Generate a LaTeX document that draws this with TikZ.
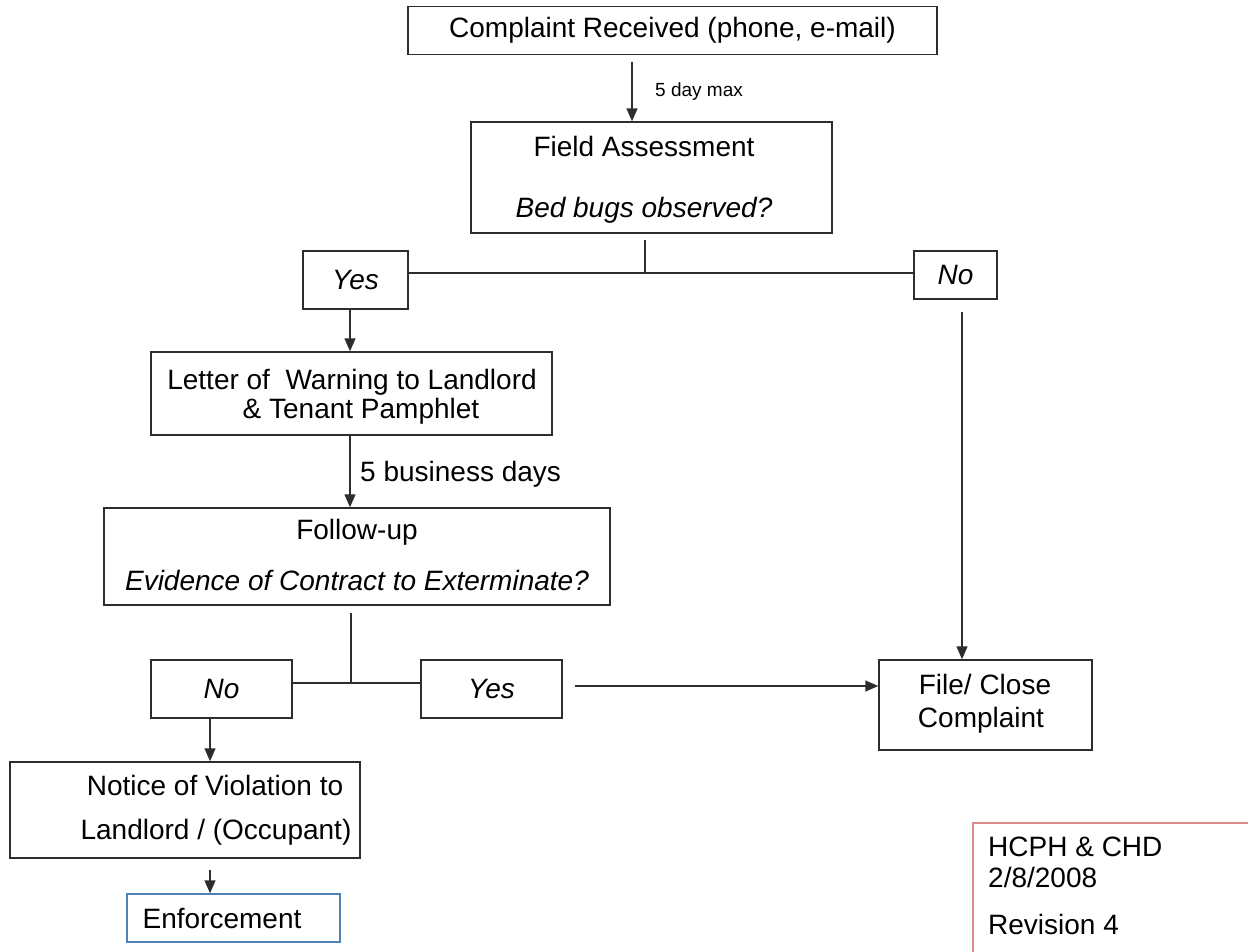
\documentclass[tikz,border=0pt]{standalone}
\usepackage{fontspec}
\setmainfont{Liberation Sans}
\usetikzlibrary{arrows.meta,calc}
\definecolor{lncol}{RGB}{45,45,45}
\definecolor{bluebox}{RGB}{79,129,189}
\definecolor{redbox}{RGB}{217,140,140}
\begin{document}
\begin{tikzpicture}[x=1pt,y=-1pt,
 box/.style={draw=lncol, line width=1.5pt, rectangle, inner sep=0pt, font=\fontsize{28}{32}\selectfont, align=center},
 txt/.style={inner sep=0pt, font=\fontsize{28}{32}\selectfont},
 itxt/.style={inner sep=0pt, font=\fontsize{28}{32}\selectfont\itshape},
 ibox/.style={box, font=\fontsize{28}{32}\selectfont\itshape},
 arr/.style={line width=1.5pt, draw=lncol, -{Triangle[length=13pt,width=11pt]}},
 ln/.style={line width=1.5pt, draw=lncol}]
\useasboundingbox (0,0) rectangle (1248,951);
\fill[white] (0,0) rectangle (1248,951);

% boxes
\node[box, minimum width=529, minimum height=48] (top) at (672.5,30.5) {Complaint Received (phone, e-mail)};
\node[box, minimum width=361, minimum height=111] (field) at (651.5,177.5) {};
\node[txt] (fieldt1) at (644,146) {Field Assessment};
\node[itxt] (fieldt2) at (644,210) {Bed bugs observed?};

\node[ibox, minimum width=105, minimum height=58] (yes1) at (355.5,280) {Yes};
\node[ibox, minimum width=83, minimum height=48] (no1) at (955.5,275) {No};

\node[box, minimum width=401, minimum height=83] (letter) at (351.5,393.5) {};
\node[txt] (lettert1) at (352,382) {Letter of\ \ Warning to Landlord};
\node[txt] (lettert2) at (361,411) {\& Tenant Pamphlet};

\node[box, minimum width=506, minimum height=97] (follow) at (357,556.5) {};
\node[txt] (followt1) at (357,532) {Follow-up};
\node[itxt] (followt2) at (357,580) {Evidence of Contract to Exterminate?};

\node[ibox, minimum width=141, minimum height=58] (no2) at (221.5,689) {No};
\node[ibox, minimum width=141, minimum height=58] (yes2) at (491.5,689) {Yes};

\node[box, minimum width=213, minimum height=90] (file) at (985.5,705) {};
\node[txt] (filet1) at (985,684) {File/ Close};
\node[txt] (filet2) at (981,720) {Complaint};

\node[box, minimum width=350, minimum height=96] (notice) at (185,810) {};
\node[txt] (noticet1) at (215,785) {Notice of Violation to};
\node[txt] (noticet2) at (216,832) {Landlord / (Occupant)};

\node[box, draw=bluebox, minimum width=213, minimum height=48] (enf) at (233.5,918) {};
\node[txt] (enft) at (222,918) {Enforcement};

\draw[draw=redbox, line width=1.5pt] (1260,823) -- (973,823) -- (973,960);
\node[txt, anchor=west] (h1) at (988,847) {HCPH \& CHD};
\node[txt, anchor=west] (h2) at (988,877) {2/8/2008};
\node[txt, anchor=west] (h3) at (988,924) {Revision 4};

% connectors
\coordinate (a1) at (632,62);
\draw[arr] (a1) -- (a1 |- field.north);
\node[inner sep=0pt, anchor=west, font=\fontsize{19}{22}\selectfont] (lbl1) at (655,92) {5 day max};

\coordinate (s1) at (645,240);
\coordinate (s1b) at (645,273);
\draw[ln] (s1) -- (s1b);
\draw[ln] (yes1.east |- s1b) -- (no1.west |- s1b);

\coordinate (a2) at (350,309);
\draw[arr] (a2) -- (a2 |- letter.north);

\coordinate (a3) at (350,435);
\draw[arr] (a3) -- (a3 |- follow.north);
\node[txt, anchor=west] (lbl2) at (360,474) {5 business days};

\coordinate (s2) at (351,613);
\coordinate (s2b) at (351,683);
\draw[ln] (s2) -- (s2b);
\draw[ln] (no2.east |- s2b) -- (yes2.west |- s2b);

\coordinate (a4) at (575,686);
\draw[arr] (a4) -- (a4 -| file.west);

\coordinate (a5) at (962,312);
\draw[arr] (a5) -- (a5 |- file.north);

\coordinate (a6) at (210,718);
\draw[arr] (a6) -- (a6 |- notice.north);

\coordinate (a7) at (210,870);
\draw[arr] (a7) -- (a7 |- enf.north);
\end{tikzpicture}
\end{document}
